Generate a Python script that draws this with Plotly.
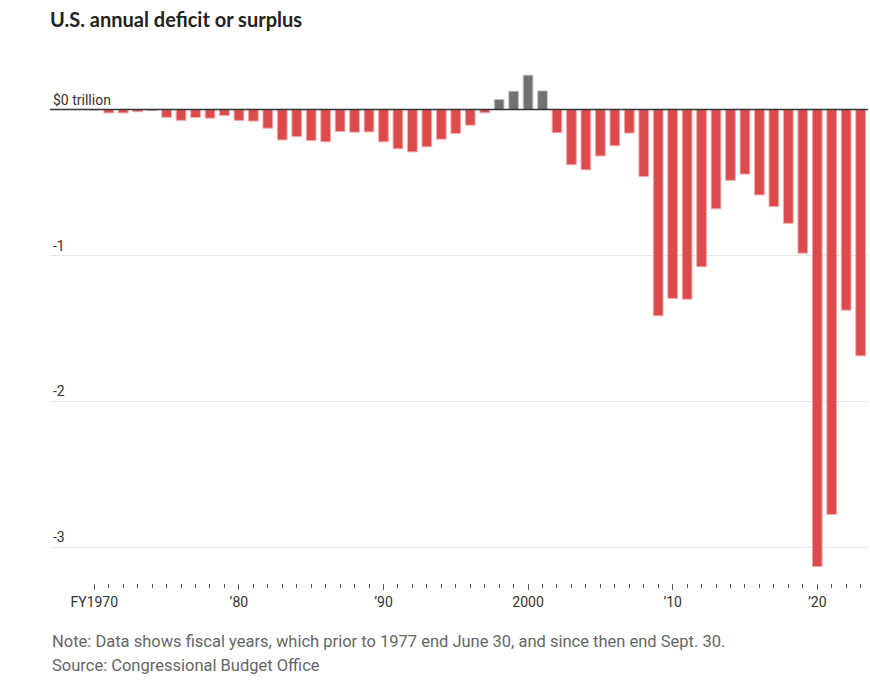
import plotly.graph_objects as go

years = list(range(1970, 2024))
balance_trillions = [
    -0.003, -0.023, -0.023, -0.015, -0.006, -0.053, -0.074, -0.054, -0.059, -0.041,
    -0.074, -0.079, -0.128, -0.208, -0.185, -0.212, -0.221, -0.150, -0.155, -0.153,
    -0.221, -0.269, -0.290, -0.255, -0.203, -0.164, -0.107, -0.022, 0.069, 0.126,
    0.236, 0.128, -0.158, -0.378, -0.413, -0.318, -0.248, -0.161, -0.459, -1.413,
    -1.294, -1.300, -1.077, -0.680, -0.485, -0.442, -0.585, -0.665, -0.779, -0.984,
    -3.132, -2.775, -1.375, -1.688,
]
x_tick_vals = [1970, 1980, 1990, 2000, 2010, 2020]
x_tick_text = ["FY1970", "\u201980", "\u201990", "2000", "\u201910", "\u201920"]
y_tick_vals = [0, -1, -2, -3]
y_tick_text = ["$0 trillion", "-1", "-2", "-3"]

RED = "#dc4a4c"
RED_EDGE = "#f1a9aa"
GRAY = "#717171"
GRAY_EDGE = "#c4c4c4"

colors = [GRAY if v > 0 else RED for v in balance_trillions]
edges = [GRAY_EDGE if v > 0 else RED_EDGE for v in balance_trillions]

X_RANGE = [1966.936, 2023.51]
Y_RANGE = [-3.245, 0.374]

fig = go.Figure()
fig.add_trace(
    go.Bar(
        x=years,
        y=balance_trillions,
        marker=dict(color=colors, line=dict(color=edges, width=1)),
        hoverinfo="x+y",
    )
)
# invisible helper trace so the label-only subplot (x2/y2) is rendered
fig.add_trace(
    go.Scatter(
        x=[years[0]], y=[0], xaxis="x2", yaxis="y2", mode="markers",
        marker=dict(opacity=0), hoverinfo="skip", showlegend=False,
    )
)

FONT = "Roboto, 'Liberation Sans', sans-serif"

fig.update_layout(
    width=870,
    height=680,
    margin=dict(l=50, r=2, t=55, b=97),
    paper_bgcolor="white",
    plot_bgcolor="rgba(0,0,0,0)",
    bargap=0.33,
    showlegend=False,
    font=dict(family=FONT, size=14, color="#333333"),
    title=dict(
        text="<b>U.S. annual deficit or surplus</b>",
        x=50 / 870,
        xanchor="left",
        y=1 - 20 / 680,
        yanchor="middle",
        font=dict(family="Lato, Roboto, sans-serif", size=20, color="#222222"),
    ),
    xaxis=dict(
        range=X_RANGE,
        tickvals=x_tick_vals,
        ticktext=x_tick_text,
        ticks="outside",
        ticklen=6,
        tickwidth=1,
        tickcolor="#555555",
        showgrid=False,
        showline=False,
        zeroline=False,
        tickfont=dict(family=FONT, size=14, color="#333333"),
        minor=dict(tickvals=years, ticks="outside", ticklen=4,
                   tickwidth=1, tickcolor="#555555", showgrid=False),
    ),
    yaxis=dict(
        range=Y_RANGE,
        tickvals=y_tick_vals,
        showticklabels=False,
        showgrid=True,
        gridcolor="#e6e6e6",
        gridwidth=1,
        zeroline=False,
        showline=False,
        ticks="",
    ),
    xaxis2=dict(
        anchor="y2",
        domain=[0, 1],
        range=X_RANGE,
        showticklabels=False,
        showgrid=False,
        zeroline=False,
        showline=False,
        ticks="",
    ),
    yaxis2=dict(
        anchor="x2",
        domain=[0, 1],
        range=Y_RANGE,
        tickvals=y_tick_vals,
        ticktext=y_tick_text,
        ticklabelposition="inside top",
        showgrid=False,
        zeroline=False,
        showline=False,
        ticks="",
        tickfont=dict(family=FONT, size=14, color="#333333"),
    ),
    shapes=[
        dict(
            type="line", xref="paper", x0=0, x1=1, yref="y", y0=0, y1=0,
            line=dict(color="#333333", width=1.5), layer="above",
        )
    ],
    annotations=[
        dict(
            text="Note: Data shows fiscal years, which prior to 1977 end June 30, and since then end Sept. 30.",
            xref="paper", yref="paper", x=0, y=(583 - 641) / 528,
            xanchor="left", yanchor="middle", showarrow=False,
            font=dict(family=FONT, size=16.5, color="#666666"),
        ),
        dict(
            text="Source: Congressional Budget Office",
            xref="paper", yref="paper", x=0, y=(583 - 665) / 528,
            xanchor="left", yanchor="middle", showarrow=False,
            font=dict(family=FONT, size=16.5, color="#666666"),
        ),
    ],
)

fig.write_html("out.html")
